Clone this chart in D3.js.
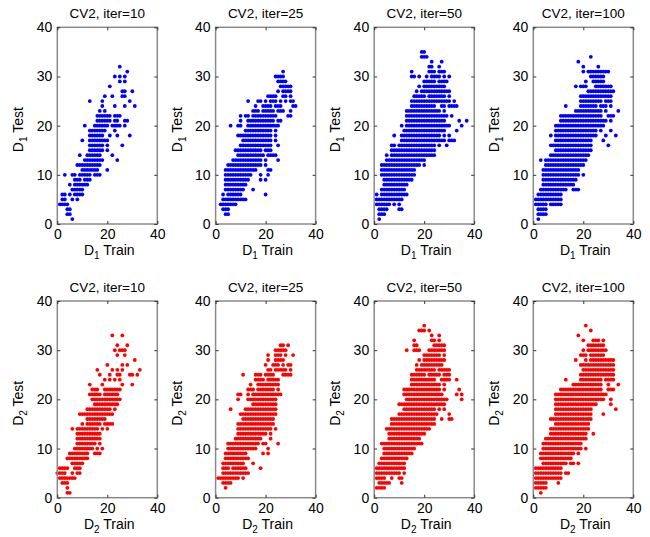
<!DOCTYPE html>
<html>
<head>
<meta charset="utf-8">
<script src="https://cdn.jsdelivr.net/npm/d3@7"></script>
<style>
  body { margin: 0; background: #fff; }
  svg { display: block; font-family: "Liberation Sans", Arial, sans-serif; }
</style>
</head>
<body>
<svg id="chart" width="650" height="537"></svg>
<script>
// Each row is "test : train values", runs written as a-b (inclusive).
const iterations = [10, 25, 50, 100];
const xTicks = [0, 20, 40];
const yTicks = [0, 10, 20, 30, 40];

const d1Iter10 = [
  "32:25", "31:28", "30:23,25,27", "29:25,27", "28:21", "27:26-27,30",
  "26:19,22,26-27", "25:13,18,29", "24:18,23,27,31", "23:17,19",
  "22:16-21,23-25", "21:16-21,23-24,27-28", "20:11,15-20,22-25,27",
  "19:13-19,23", "18:13-18,21,24,29", "17:10,13-20", "16:13-18,20,26",
  "15:13-18,20", "14:9,12-17,22", "13:11-18,24", "12:8-17", "11:10-16,20",
  "10:3,6-7,9-13,15-17", "9:7-9,11-13", "8:5,7-12", "7:6-10", "6:2-3,5,7-10",
  "5:2-3,6,8", "4:1-4", "3:4-5", "2:4-5", "1:6"
];
const d1Iter25 = [
  "31:27", "30:24-27", "29:25-28", "28:26-30", "27:25,27-30", "26:21-24,27-28,30",
  "25:13,17-18,20,22-24,26,28,30-31", "24:16,19-22,24-26,31-32",
  "23:15-17,19-23,25-27,30", "22:10,12-13,15-24,29-30", "21:10,13-23,25-26",
  "20:6,9-10,13-25", "19:12-22,24", "18:9-22,24", "17:11-22,24", "16:10-22,25",
  "15:8-18,20-22", "14:9-19,21-24", "13:7-18,20,25", "12:5-18,20",
  "11:4-16,21-22", "10:4-14,18,21", "9:4-13,18,20", "8:4-12", "7:4-11,15",
  "6:3,5-10,20", "5:3-12", "4:2-8", "3:3-5", "2:4-5"
];
const d1Iter50 = [
  "35:19-20", "34:19-21", "33:23,27", "32:22-23,26", "31:15,22-24,26-28",
  "30:15-16,18,21,23-26,28,30", "29:20-24,26-29", "28:18,20-28", "27:17,19-30",
  "26:16-20,22-28,30", "25:15-26,27-30,32", "24:15-24,27-28,30-33",
  "23:13-26,28", "22:13-28,29,31", "21:13-28,34,37", "20:11,13-30,35",
  "19:12-28,33", "18:8,11-26,28,30", "17:11-28,30-32", "16:7-8,10-24,26,29",
  "15:7-24", "14:5,7-24", "13:5-20", "12:3-18,20", "11:3-16", "10:3-16",
  "9:4-15", "8:4-13", "7:3-12", "6:1,3-13", "5:1-11", "4:1-6,8,10",
  "3:2-5,10-11", "2:2-4", "1:2"
];
const d1Iter100 = [
  "34:23", "33:18", "32:20,26", "31:20,22-30", "30:23-28", "29:21,24-28",
  "28:17,19-21,25-31", "27:22-32", "26:19-31", "25:19-27,29-31",
  "24:13,19-25,27-29,31", "23:17-27,29,34", "22:11-27,30-32", "21:11-29,31",
  "20:9-28", "19:9-25,27,31", "18:7,9-25,29,33", "17:9-23,28", "16:7-23,30",
  "15:9-23", "14:7-22", "13:3,5-21", "12:5-20", "11:4-18", "10:4-18,20",
  "9:4-17", "8:4-16", "7:3-13,16-18", "6:2-11", "5:1-11", "4:1-5,7-11",
  "3:2-5", "2:2-5", "1:2"
];
const d2Iter10 = [
  "33:22,26", "31:24,28", "30:23,25-27", "29:24,27", "28:31", "27:20,26,28",
  "26:16,22,24,26,33", "25:17,21,24-25,29-30,32", "24:19,21,23,25",
  "23:13,18,26,30", "22:14-16,19-25", "21:13-17,19-24", "20:14-25",
  "19:15-24", "18:12-21,23", "17:9-22", "16:12-19", "15:10,12-17,19-22",
  "14:6,8-16,18,20", "13:8-17", "12:8-17", "11:8-15,17", "10:7-14,16,18",
  "9:5-12,15-17", "8:4-12", "7:6-10", "6:1-4,7-9", "5:0-3,6,8-9", "4:1-7",
  "3:2-4", "2:4", "1:4-5"
];
const d2Iter25 = [
  "31:26-27,29", "30:24-28", "29:21,24-26,28,31", "28:21,24-27",
  "27:20,23-25,27,29-30", "26:21-22,24-28,30", "25:11,16-18,20-23,27-30",
  "24:16-19,21-25", "23:14,17-25", "22:13-15,17-23,25", "21:9-10,13,15-26",
  "20:9,13-24", "19:15-24", "18:6,12-24", "17:10-24", "16:11-23", "15:9-23",
  "14:9-22,24", "13:9-20,22", "12:8-18,22", "11:5-17,19-20,25", "10:5-16,21",
  "9:4-12,19,21", "8:4-13", "7:3-11,15", "6:3-5,7-12,18", "5:3-13",
  "4:1-9,11", "3:3-6", "2:4"
];
const d2Iter50 = [
  "35:20", "34:18-20,22", "33:23,26", "32:16,23-24,26", "31:16-17,24-28",
  "30:13,16-18,22-28", "29:20-26,28", "28:18,20-28", "27:17,19-27",
  "26:17-24,26-30", "25:15-20,22-26,28-30", "24:15-24,27-30,33",
  "23:15-26,28", "22:12-26,28,34", "21:12-27,33,35", "20:13-29,35",
  "19:10-28", "18:12-24,26,28", "17:10-25,30", "16:7-24,27,30-31",
  "15:7-24", "14:5-22", "13:6-20", "12:6-18", "11:3-19", "10:4-16",
  "9:4-15", "8:3-13", "7:2-12", "6:1-12", "5:1-10,12", "4:1-4,7,10-11",
  "3:2-6,11", "2:1-4"
];
const d2Iter100 = [
  "35:21", "34:23", "33:18", "32:20,24-26,28", "31:22-28", "30:20,22-29",
  "29:19-21,23-28", "28:17,21,23-32", "27:19-32", "26:20-32", "25:19-32",
  "24:13,19-27,29-32", "23:16-27,30,34", "22:11-27,30-32", "21:9-29",
  "20:9-28,31", "19:9-25,31", "18:9-23,33", "17:9-23,28", "16:7-23",
  "15:9-22", "14:7-22", "13:7-21,24", "12:5-21", "11:4-19", "10:4-19,21",
  "9:3-16,18", "8:3-15", "7:4-13,15-16,18", "6:1-11", "5:1-11,13-14",
  "4:1-11", "3:1-5,10", "2:1-5", "1:3"
];

const trainTest1 = [d1Iter10, d1Iter25, d1Iter50, d1Iter100];
const trainTest2 = [d2Iter10, d2Iter25, d2Iter50, d2Iter100];

// Expand run-length rows into [train, test] pairs.
function expandRows(rows) {
  const pts = [];
  rows.forEach(row => {
    const [yStr, runs] = row.split(":");
    const yv = +yStr;
    runs.split(",").forEach(run => {
      const [a, b] = run.split("-").map(Number);
      const end = b === undefined ? a : b;
      for (let xv = a; xv <= end; xv++) pts.push([xv, yv]);
    });
  });
  return pts;
}

const svg = d3.select("#chart");
const colLeft = [57.3, 215.6, 374.2, 533.3];
const rowTop = [27.3, 301];
const W = 100, H = 196.7;
const dotColor = ["#0000ff", "#ff0000"];
const boxColor = "#8a8a8a";

function drawPanel(rowIdx, colIdx, rows) {
  const L = colLeft[colIdx], T = rowTop[rowIdx];
  const d = rowIdx + 1;
  const x = d3.scaleLinear().domain([0, 40]).range([L, L + W]);
  const y = d3.scaleLinear().domain([0, 40]).range([T + H, T]);
  const g = svg.append("g");

  g.append("g").selectAll("circle")
    .data(expandRows(rows))
    .join("circle")
    .attr("cx", p => x(p[0]))
    .attr("cy", p => y(p[1]))
    .attr("r", 1.9)
    .attr("fill", dotColor[rowIdx]);

  g.append("rect")
    .attr("x", L).attr("y", T).attr("width", W).attr("height", H)
    .attr("fill", "none").attr("stroke", boxColor).attr("stroke-width", 1.5);

  const axes = [
    [d3.axisBottom(x).tickValues(xTicks), `translate(0,${T + H})`, true],
    [d3.axisTop(x).tickValues(xTicks).tickFormat(""), `translate(0,${T})`, false],
    [d3.axisLeft(y).tickValues(yTicks), `translate(${L},0)`, true],
    [d3.axisRight(y).tickValues(yTicks).tickFormat(""), `translate(${L + W},0)`, false]
  ];
  axes.forEach(([ax, tr]) => {
    const a = g.append("g").attr("transform", tr)
      .call(ax.tickSizeInner(-3).tickSizeOuter(0).tickPadding(5));
    a.select(".domain").remove();
    a.selectAll(".tick line").attr("stroke", "#333");
    a.selectAll(".tick text").attr("fill", "#000")
      .style("font-size", "14px").style("font-family", "'Liberation Sans', Arial, sans-serif");
  });

  g.append("text")
    .attr("x", L + W / 2).attr("y", T - 9.5)
    .attr("text-anchor", "middle")
    .style("font-size", "13.5px")
    .text(`CV2, iter=${iterations[colIdx]}`);

  const xl = g.append("text")
    .attr("x", L + W / 2 + 2).attr("y", T + H + 31)
    .attr("text-anchor", "middle")
    .style("font-size", "14px");
  xl.append("tspan").text("D");
  xl.append("tspan").attr("dy", 4).style("font-size", "10px").text(d);
  xl.append("tspan").attr("dy", -4).text(" Train");

  const yl = g.append("text")
    .attr("transform", `translate(${L - 34},${T + H / 2 + 4}) rotate(-90)`)
    .attr("text-anchor", "middle")
    .style("font-size", "14px");
  yl.append("tspan").text("D");
  yl.append("tspan").attr("dy", 4).style("font-size", "10px").text(d);
  yl.append("tspan").attr("dy", -4).text(" Test");
}

trainTest1.forEach((rows, i) => drawPanel(0, i, rows));
trainTest2.forEach((rows, i) => drawPanel(1, i, rows));
</script>
</body>
</html>
